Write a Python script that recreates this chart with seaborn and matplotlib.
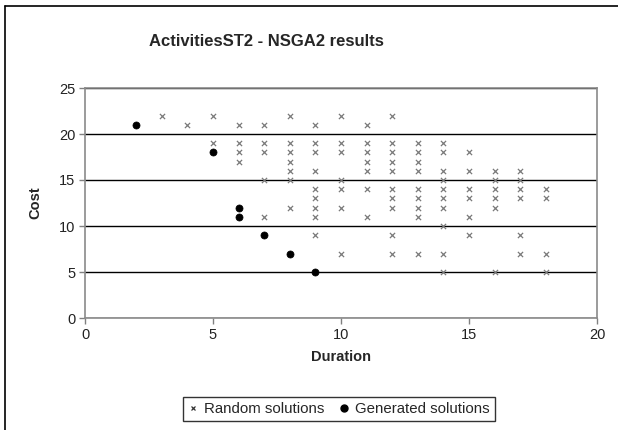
import matplotlib
matplotlib.use("Agg")
import matplotlib.pyplot as plt
import seaborn as sns
import pandas as pd
from matplotlib.lines import Line2D

# ---- data ----
random_x = [3, 4, 5, 5,
            6, 6, 6, 6,
            7, 7, 7, 7, 7,
            8, 8, 8, 8, 8, 8, 8,
            9, 9, 9, 9, 9, 9, 9, 9, 9,
            10, 10, 10, 10, 10, 10, 10,
            11, 11, 11, 11, 11, 11, 11,
            12, 12, 12, 12, 12, 12, 12, 12, 12, 12,
            13, 13, 13, 13, 13, 13, 13, 13, 13,
            14, 14, 14, 14, 14, 14, 14, 14, 14, 14,
            15, 15, 15, 15, 15, 15,
            16, 16, 16, 16, 16, 16,
            17, 17, 17, 17, 17, 17,
            18, 18, 18, 18]
random_y = [22, 21, 22, 19,
            21, 19, 18, 17,
            21, 19, 18, 15, 11,
            22, 19, 18, 17, 16, 15, 12,
            21, 19, 18, 16, 14, 13, 12, 11, 9,
            22, 19, 18, 15, 14, 12, 7,
            21, 19, 18, 17, 16, 14, 11,
            22, 19, 18, 17, 16, 14, 13, 12, 9, 7,
            19, 18, 17, 16, 14, 13, 12, 11, 7,
            19, 18, 16, 15, 14, 13, 12, 10, 7, 5,
            18, 16, 14, 13, 11, 9,
            16, 15, 14, 13, 12, 5,
            16, 15, 14, 13, 9, 7,
            14, 13, 7, 5]
gen_x = [2, 5, 6, 6, 7, 8, 9]
gen_y = [21, 18, 12, 11, 9, 7, 5]

x_ticks = [0, 5, 10, 15, 20]
y_ticks = [0, 5, 10, 15, 20, 25]
title = "ActivitiesST2 - NSGA2 results"
x_label = "Duration"
y_label = "Cost"
series_names = ["Random solutions", "Generated solutions"]

df_r = pd.DataFrame({"Duration": random_x, "Cost": random_y})
df_g = pd.DataFrame({"Duration": gen_x, "Cost": gen_y})

sns.set_style("white")
plt.rcParams["font.family"] = ["Liberation Sans", "DejaVu Sans"]

fig = plt.figure(figsize=(6.18, 4.30), dpi=100)
W, H = 618, 430
ax = fig.add_axes([85 / W, 1 - 318 / H, (597 - 85) / W, (318 - 88) / H])

sns.scatterplot(data=df_r, x="Duration", y="Cost", ax=ax, marker="x",
                color="#7a7a7a", s=14, linewidth=0.9, zorder=3, legend=False)
sns.scatterplot(data=df_g, x="Duration", y="Cost", ax=ax, marker="o",
                color="black", s=26, edgecolor="black", linewidth=0.5,
                zorder=4, legend=False)

ax.set_xlim(0, 20)
ax.set_ylim(0, 25)
ax.set_xticks(x_ticks)
ax.set_yticks(y_ticks)
ax.set_xticklabels([str(t) for t in x_ticks])
ax.set_yticklabels([str(t) for t in y_ticks])
ax.yaxis.grid(True, color="black", linewidth=1.0)
ax.xaxis.grid(False)
ax.set_axisbelow(True)
for sp in ax.spines.values():
    sp.set_color("#8a8a8a")
    sp.set_linewidth(1.2)
ax.tick_params(axis="both", direction="out", length=4, width=1,
               color="#808080", labelsize=10.5, labelcolor="#222222", pad=3)
ax.tick_params(axis="both", which="both", bottom=True, left=True)
ax.set_xlabel(x_label, fontsize=10.5, fontweight="bold", labelpad=6)
ax.set_ylabel(y_label, fontsize=10.5, fontweight="bold", labelpad=12)

fig.text(266 / W, 1 - 41 / H, title, ha="center", va="center",
         fontsize=12, fontweight="bold")

handles = [
    Line2D([], [], marker="x", color="#333333", linestyle="none",
           markersize=3.5, markeredgewidth=0.9),
    Line2D([], [], marker="o", color="black", linestyle="none",
           markersize=5),
]
leg = fig.legend(handles, series_names, loc="center",
                 bbox_to_anchor=(339 / W, 1 - 409 / H), ncol=2,
                 frameon=True, fancybox=False, fontsize=10.8,
                 handlelength=0.6, handletextpad=0.45, columnspacing=1.0,
                 borderpad=0.35, borderaxespad=0)
leg.get_frame().set_edgecolor("black")
leg.get_frame().set_linewidth(1.0)

# outer chart border (top and left visible)
fig.add_artist(Line2D([5 / W, 1], [1 - 6 / H, 1 - 6 / H], color="black",
                      linewidth=1.2, transform=fig.transFigure))
fig.add_artist(Line2D([5 / W, 5 / W], [0, 1 - 6 / H], color="black",
                      linewidth=1.2, transform=fig.transFigure))

fig.savefig("out.png", dpi=100)
